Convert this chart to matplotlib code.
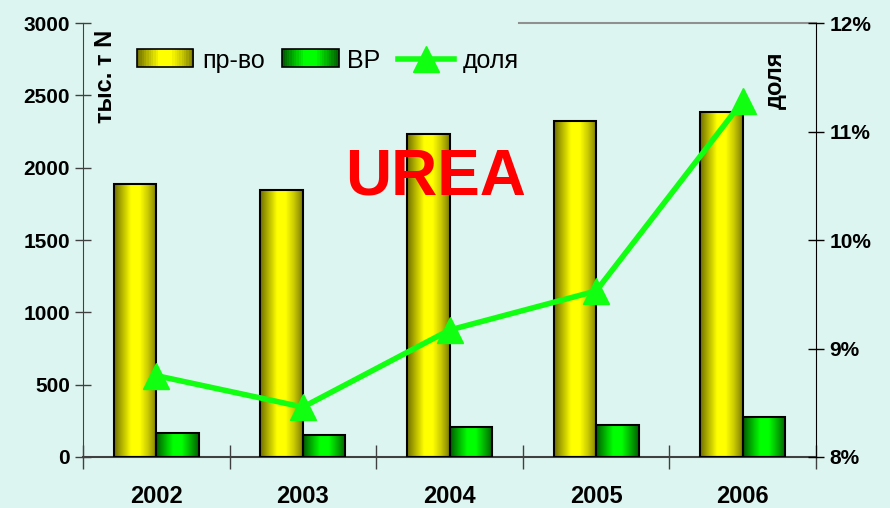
import matplotlib
matplotlib.use("Agg")
import matplotlib.pyplot as plt
import numpy as np
from matplotlib.colors import LinearSegmentedColormap
from matplotlib.legend_handler import HandlerBase
from matplotlib.patches import Rectangle

#============================================================
years = ["2002", "2003", "2004", "2005", "2006"]
prod = [1889, 1847, 2232, 2322, 2384]      # пр-во
vr = [168, 152, 207, 221, 276]             # ВР
share = [8.75, 8.46, 9.17, 9.53, 11.28]    # доля, %
#============================================================

bg = "#ddf5f0"
yellow_cm = LinearSegmentedColormap.from_list(
    "cyl_y", ["#6e6e00", "#b8b800", "#ffff00", "#ffff00", "#c8c800", "#7a7a00"])
green_cm = LinearSegmentedColormap.from_list(
    "cyl_g", ["#005a00", "#00b000", "#00ff00", "#00ff00", "#00b000", "#006000"])

plt.rcParams['font.family'] = ['Liberation Sans', 'DejaVu Sans']

fig = plt.figure(figsize=(8.9, 5.08), dpi=100, facecolor=bg)
ax = fig.add_axes([0.0933, 0.1004, 0.8236, 0.8543])
ax.set_facecolor(bg)
ax2 = ax.twinx()

x = np.arange(len(years))
w = 0.29
grad = np.linspace(0, 1, 256).reshape(1, -1)


def cyl_bars(xs, vals, cmap):
    bars = ax.bar(xs, vals, w, facecolor="none", edgecolor="black", linewidth=1.5, zorder=3)
    for b in bars:
        x0, y0 = b.get_x(), b.get_y()
        im = ax.imshow(grad, cmap=cmap, aspect="auto", zorder=2,
                       extent=[x0, x0 + b.get_width(), y0, y0 + b.get_height()])
        im.set_clip_path(b)
    return bars


cyl_bars(x - w / 2, prod, yellow_cm)
cyl_bars(x + w / 2, vr, green_cm)

ax.set_xlim(-0.5, len(years) - 0.5)
ax.set_ylim(0, 3000)
ax.set_yticks(range(0, 3001, 500))
ax.set_xticks(x)
ax.set_xticklabels(years, fontsize=17, fontweight="bold")
ax.set_xticks(np.arange(-0.5, len(years), 1), minor=True)
ax.tick_params(axis="x", which="major", length=0, pad=20)
ax.tick_params(axis="x", which="minor", direction="inout", length=17, color="#404040", width=1)
ax.tick_params(axis="y", direction="inout", length=12, color="#404040", width=1, labelsize=15)
for t in ax.get_yticklabels():
    t.set_fontweight("bold")

ax.spines["left"].set_color("#404040")
ax.spines["bottom"].set_color("#404040")
ax.spines["bottom"].set_linewidth(1.5)
ax.spines["top"].set_visible(False)
ax.spines["right"].set_visible(False)
ax.axhline(3000, xmin=0.595, xmax=1, color="#909090", linewidth=1.5, clip_on=False)

line, = ax2.plot(x, share, color="#11ff11", linewidth=4, marker="^", markersize=19,
                 zorder=4, label="доля")
ax2.set_ylim(8, 12)
ax2.set_yticks([8, 9, 10, 11, 12])
ax2.set_yticklabels([f"{v}%" for v in [8, 9, 10, 11, 12]], fontsize=15, fontweight="bold")
ax2.tick_params(axis="y", direction="inout", length=12, color="black", width=1)
ax2.spines["right"].set_color("black")
for s in ["left", "top", "bottom"]:
    ax2.spines[s].set_visible(False)

ax2.text(0.031, 0.985, "тыс. т N", transform=ax.transAxes, rotation=90,
         ha="center", va="top", fontsize=17, fontweight="bold")
ax2.text(0.945, 0.935, "доля", transform=ax.transAxes, rotation=90,
         ha="center", va="top", fontsize=17, fontweight="bold")
ax2.text(0.481, 0.643, "UREA", transform=ax.transAxes, ha="center", va="center",
         fontsize=46, fontweight="bold", color="red")


class CylHandler(HandlerBase):
    def __init__(self, cmap):
        super().__init__()
        self.cmap = cmap

    def create_artists(self, legend, orig_handle, xd, yd, width, height, fontsize, trans):
        n = 24
        arts = []
        for i in range(n):
            r = Rectangle((xd + width * i / n, yd), width / n + 0.3, height,
                          facecolor=self.cmap((i + 0.5) / n), edgecolor="none", transform=trans)
            arts.append(r)
        arts.append(Rectangle((xd, yd), width, height, facecolor="none",
                              edgecolor="black", linewidth=1.2, transform=trans))
        return arts


h_prod = Rectangle((0, 0), 1, 1)
h_vr = Rectangle((0, 0), 1, 1)
leg = ax2.legend([h_prod, h_vr, line], ["пр-во", "ВР", "доля"], ncol=3,
                 loc="center left", bbox_to_anchor=(0.06, 0.913),
                 handler_map={h_prod: CylHandler(yellow_cm), h_vr: CylHandler(green_cm)},
                 frameon=False, fontsize=18, handlelength=2.25, handleheight=0.75,
                 handletextpad=0.35, columnspacing=0.7, borderaxespad=0)

fig.savefig("out.png", dpi=100, facecolor=bg)
